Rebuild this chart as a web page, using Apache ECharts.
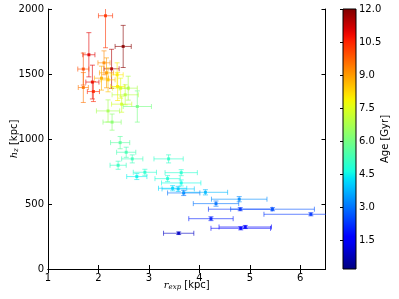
<!DOCTYPE html>
<html><head><meta charset="utf-8">
<script src="https://cdn.jsdelivr.net/npm/echarts@6/dist/echarts.min.js"></script>
<style>html,body{margin:0;padding:0;background:#fff}#c{width:399px;height:299px}</style>
</head><body><div id="c"></div>
<script>
// r_exp [kpc]
const rExp = [2.14,2.49,1.81,1.70,1.88,1.70,1.90,2.26,2.16,2.06,2.19,2.11,2.38,2.44,2.53,2.59,2.77,2.46,2.19,2.27,2.37,
  2.43,2.55,2.67,2.39,2.92,2.76,3.39,3.64,3.37,3.64,3.47,3.58,3.69,4.12,4.79,4.33,4.81,5.45,6.21,4.23,4.91,4.82,3.59];
// h_z [kpc]
const hz = [1948,1712,1648,1538,1438,1396,1365,1540,1509,1468,1455,1586,1404,1391,1340,1391,1250,1268,1216,1130,1494,
  972,898,847,798,744,711,847,741,695,662,621,616,585,590,537,503,460,460,421,387,323,313,275];
const rExpErr = [0.14,0.16,0.12,0.11,0.13,0.10,0.12,0.15,0.14,0.14,0.14,0.12,0.14,0.16,0.26,0.18,0.28,0.20,0.23,0.18,0.12,
  0.19,0.19,0.21,0.16,0.23,0.20,0.29,0.32,0.25,0.39,0.28,0.32,0.32,0.44,0.55,0.45,0.63,0.83,0.93,0.44,0.52,0.59,0.30];
const hzErr = [246,162,170,123,130,115,77,150,115,92,92,92,108,77,77,92,120,62,85,62,92,
  47,39,31,31,23,23,31,23,23,23,20,20,20,20,20,20,12,12,12,15,12,12,10];
// Age [Gyr]
const age = [10.3,11.9,11.0,10.0,11.0,9.5,10.5,11.5,9.0,8.8,8.5,9.2,8.0,7.6,7.0,6.8,6.0,7.3,6.7,6.3,8.0,
  5.6,5.3,5.2,5.1,4.9,4.5,5.0,4.9,4.8,4.6,4.2,4.0,3.0,3.8,3.3,3.0,2.2,2.6,2.3,2.0,1.5,1.6,0.9];
const xTicks = [1,2,3,4,5,6];
const yTicks = [0,500,1000,1500,2000];
const cbTicks = [1.5,3.0,4.5,6.0,7.5,9.0,10.5,12.0];
const ageMin = 0.2, ageMax = 12.0;

function interp(pts, t){
  for (let i=1;i<pts.length;i++){
    if (t<=pts[i][0]){const a=pts[i-1],b=pts[i];return a[1]+(b[1]-a[1])*(t-a[0])/(b[0]-a[0]);}
  }
  return pts[pts.length-1][1];
}
function jet(t){
  t=Math.max(0,Math.min(1,t));
  const r=interp([[0,0],[0.35,0],[0.66,1],[0.89,1],[1,0.5]],t);
  const g=interp([[0,0],[0.125,0],[0.375,1],[0.64,1],[0.91,0],[1,0]],t);
  const b=interp([[0,0.5],[0.11,1],[0.34,1],[0.65,0],[1,0]],t);
  return 'rgb('+Math.round(r*255)+','+Math.round(g*255)+','+Math.round(b*255)+')';
}
const ageColor = a => jet((a-ageMin)/(ageMax-ageMin));

const pts = rExp.map((x,i)=>[x,hz[i],rExpErr[i],hzErr[i],age[i]]);
const font = 'DejaVu Sans';
const chart = echarts.init(document.getElementById('c'),null,{renderer:'canvas'});
const stops=[];for(let i=0;i<=40;i++){stops.push({offset:i/40,color:jet(i/40)});}
const richLbl = {i:{fontStyle:'italic',fontFamily:'DejaVu Serif',fontSize:10},s:{fontStyle:'italic',fontFamily:'DejaVu Serif',fontSize:7,padding:[5,0,0,0]}};

chart.setOption({
  animation:false,
  textStyle:{fontFamily:font},
  grid:[{left:48,right:73.5,top:9,bottom:30,containLabel:false,outerBoundsMode:'none'},
        {left:343,width:13,top:9,bottom:30,containLabel:false,outerBoundsMode:'none'}],
  xAxis:[
    {gridIndex:0,type:'value',min:1,max:6.5,position:'bottom',
     name:'{i|r}{s|exp} [kpc]',nameLocation:'middle',nameGap:10,nameMoveOverlap:false,
     nameTextStyle:{color:'#000',fontSize:10,fontFamily:font,rich:richLbl},
     axisLine:{lineStyle:{color:'#000',width:1}},
     axisTick:{inside:true,length:4,customValues:xTicks,lineStyle:{color:'#000'}},
     axisLabel:{customValues:xTicks,color:'#000',fontSize:10,margin:4,formatter:v=>String(v)},
     splitLine:{show:false}},
    {gridIndex:0,type:'value',min:1,max:6.5,position:'top',
     axisLine:{lineStyle:{color:'#000',width:1}},
     axisTick:{inside:true,length:4,customValues:xTicks,lineStyle:{color:'#000'}},
     axisLabel:{show:false},splitLine:{show:false}},
    {gridIndex:1,type:'value',min:0,max:1,show:false}
  ],
  yAxis:[
    {gridIndex:0,type:'value',min:0,max:2000,interval:500,position:'left',
     name:'{i|h}{s|z} [kpc]',nameLocation:'middle',nameGap:28,nameMoveOverlap:false,
     nameTextStyle:{color:'#000',fontSize:10,fontFamily:font,rich:richLbl},
     axisLine:{show:true,lineStyle:{color:'#000',width:1}},
     axisTick:{show:true,inside:true,length:4,customValues:yTicks,lineStyle:{color:'#000'}},
     axisLabel:{customValues:yTicks,color:'#000',fontSize:10,margin:4,formatter:v=>String(v)},
     splitLine:{show:false}},
    {gridIndex:0,type:'value',min:0,max:2000,interval:500,position:'right',
     axisLine:{show:true,lineStyle:{color:'#000',width:1}},
     axisTick:{show:true,inside:true,length:4,customValues:yTicks,lineStyle:{color:'#000'}},
     axisLabel:{show:false},splitLine:{show:false}},
    {gridIndex:1,type:'value',min:ageMin,max:ageMax,position:'right',
     name:'Age [Gyr]',nameLocation:'middle',nameGap:24,nameRotate:90,nameMoveOverlap:false,
     nameTextStyle:{color:'#000',fontSize:10,fontFamily:font},
     axisLine:{show:false},
     axisTick:{show:true,inside:true,length:3,customValues:cbTicks,lineStyle:{color:'#000'}},
     axisLabel:{customValues:cbTicks,color:'#000',fontSize:10,margin:3,formatter:v=>Number(v).toFixed(1)},
     splitLine:{show:false}}
  ],
  series:[
    {type:'custom',xAxisIndex:2,yAxisIndex:2,data:[[0,ageMin,1,ageMax]],silent:true,
     renderItem:(params,api)=>{
       const p0=api.coord([api.value(0),api.value(3)]);
       const p1=api.coord([api.value(2),api.value(1)]);
       return {type:'group',children:[
         {type:'rect',shape:{x:p0[0],y:p0[1],width:p1[0]-p0[0],height:p1[1]-p0[1]},
          style:{fill:new echarts.graphic.LinearGradient(0,1,0,0,stops)}},
         {type:'rect',shape:{x:p0[0],y:p0[1],width:p1[0]-p0[0],height:p1[1]-p0[1]},
          style:{fill:null,stroke:'#000',lineWidth:1}}
       ]};
     }},
    {type:'custom',xAxisIndex:0,yAxisIndex:0,data:pts,clip:true,silent:true,
     renderItem:(params,api)=>{
       const x=api.value(0),y=api.value(1),xe=api.value(2),ye=api.value(3),a=api.value(4);
       const col=ageColor(a);
       const c=api.coord([x,y]);
       const l=api.coord([x-xe,y]),r=api.coord([x+xe,y]);
       const t=api.coord([x,y+ye]),b=api.coord([x,y-ye]);
       const cap=2.5;
       const ls={stroke:col,lineWidth:1,opacity:0.6};
       const line=(x1,y1,x2,y2)=>({type:'line',shape:{x1,y1,x2,y2},style:ls});
       return {type:'group',children:[
         line(l[0],l[1],r[0],r[1]),
         line(l[0],l[1]-cap,l[0],l[1]+cap),
         line(r[0],r[1]-cap,r[0],r[1]+cap),
         line(t[0],t[1],b[0],b[1]),
         line(t[0]-cap,t[1],t[0]+cap,t[1]),
         line(b[0]-cap,b[1],b[0]+cap,b[1]),
         {type:'rect',shape:{x:c[0]-1.5,y:c[1]-1.5,width:3,height:3},style:{fill:col,opacity:0.85}}
       ]};
     }}
  ]
});
</script></body></html>
